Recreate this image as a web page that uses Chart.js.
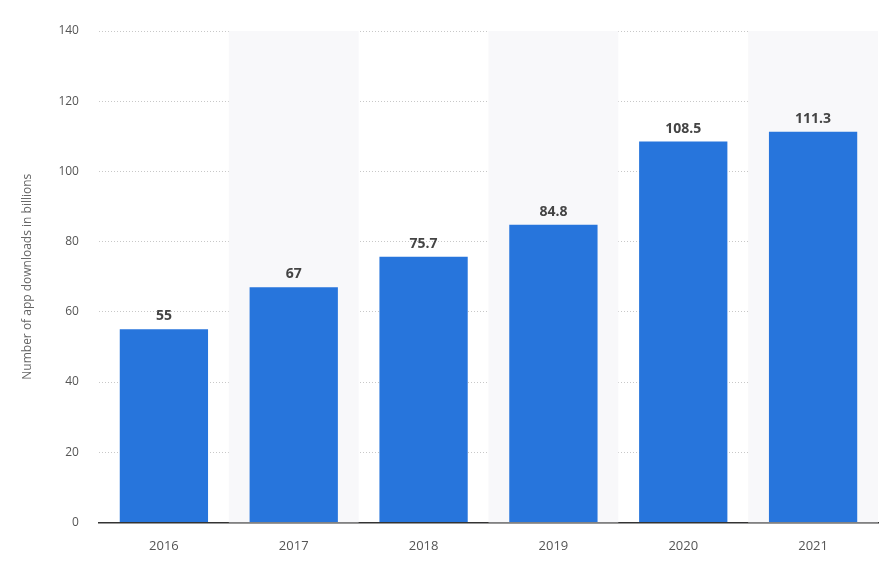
<!DOCTYPE html>
<html><head><meta charset="utf-8">
<script src="https://cdn.jsdelivr.net/npm/chart.js@4"></script>
<style>html,body{margin:0;padding:0;background:#fff}#w{width:890px;height:566px}</style>
</head><body><div id="w"><canvas id="c"></canvas></div>
<script>
const categories = ["2016","2017","2018","2019","2020","2021"];
const downloads = [55, 67, 75.7, 84.8, 108.5, 111.3];
const yTicks = [0,20,40,60,80,100,120,140];

const bands = {
  id:'bands',
  beforeDatasetsDraw(ch){
    const {ctx, chartArea:a, scales:{x}} = ch;
    const w = (a.right-a.left)/categories.length;
    ctx.save(); ctx.fillStyle='#f8f8fa';
    categories.forEach((c,i)=>{ if(i%2===1){ ctx.fillRect(x.getPixelForValue(i)-w/2, a.top, w, a.bottom-a.top);} });
    ctx.restore();
  },
  afterDatasetsDraw(ch){
    const {ctx} = ch; const m = ch.getDatasetMeta(0);
    ctx.save(); ctx.font='bold 14px "Open Sans", sans-serif'; ctx.fillStyle='#444';
    ctx.textAlign='center'; ctx.textBaseline='bottom';
    m.data.forEach((b,i)=>ctx.fillText(String(downloads[i]), b.x, b.y-6));
    ctx.restore();
  }
};

new Chart(document.getElementById('c'),{
  type:'bar',
  data:{labels:categories,datasets:[{data:downloads,backgroundColor:'#2775dc',barPercentage:0.68,categoryPercentage:1}]},
  options:{
    responsive:true,maintainAspectRatio:false,animation:false,
    layout:{padding:{top:31,right:12,left:16,bottom:4}},
    plugins:{legend:{display:false},tooltip:{enabled:false}},
    scales:{
      x:{grid:{display:false},border:{color:'#333',width:1.5},
         ticks:{color:'#555',font:{size:13,family:'"Open Sans", sans-serif'},padding:8}},
      y:{min:0,max:140,afterBuildTicks:s=>{s.ticks=yTicks.map(v=>({value:v}));},
         grid:{color:'#c8c8c8',borderDash:[1,2],drawTicks:false},
         border:{display:false,dash:[1,2]},
         ticks:{color:'#555',font:{size:12,family:'"Open Sans", sans-serif'},padding:20},
         title:{display:true,text:'Number of app downloads in billions',color:'#666',font:{size:12,family:'"Open Sans", sans-serif'}}}
    }
  },
  plugins:[bands]
});
</script></body></html>
